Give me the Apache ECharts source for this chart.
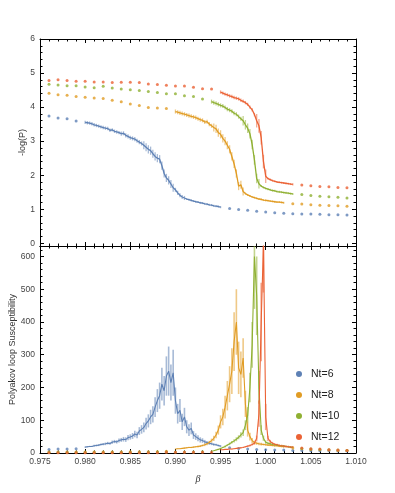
<!DOCTYPE html>
<html><head><meta charset="utf-8">
<script src="https://cdn.jsdelivr.net/npm/echarts@6/dist/echarts.min.js"></script>
<style>html,body{margin:0;padding:0;background:#fff}#c{width:395px;height:493px}</style>
</head><body><div id="c"></div>
<script>
// ---------- DATA ----------
const NAMES = ['Nt=6', 'Nt=8', 'Nt=10', 'Nt=12'];
const xTickLabels = [0.975, 0.980, 0.985, 0.990, 0.995, 1.000, 1.005, 1.010];
const yTicksTop = [0, 1, 2, 3, 4, 5, 6];
const yMinorTop = [0.2,0.4,0.6,0.8,1.2,1.4,1.6,1.8,2.2,2.4,2.6,2.8,3.2,3.4,3.6,3.8,4.2,4.4,4.6,4.8,5.2,5.4,5.6,5.8];
const yTicksBot = [0, 100, 200, 300, 400, 500, 600];
const yMinorBot = [20,40,60,80,120,140,160,180,220,240,260,280,320,340,360,380,420,440,460,480,520,540,560,580,620];

// Nt=6 dense
const bx6 = [0.98,0.98025,0.9805,0.98075,0.981,0.98125,0.9815,0.98175,0.982,0.98225,0.9825,0.98275,0.983,0.98325,0.9835,0.98375,0.984,0.98425,0.9845,0.98475,0.985,0.98525,0.9855,0.98575,0.986,0.98625,0.9865,0.98675,0.987,0.98725,0.9875,0.98775,0.988,0.98825,0.9885,0.98875,0.989,0.98925,0.9895,0.98975,0.99,0.99025,0.9905,0.99075,0.991,0.99125,0.9915,0.99175,0.992,0.99225,0.9925,0.99275,0.993,0.99325,0.9935,0.99375,0.994,0.99425,0.9945,0.99475,0.995];
const top6 = [3.55,3.54,3.53,3.51,3.48,3.46,3.44,3.42,3.40,3.38,3.37,3.32,3.33,3.29,3.27,3.25,3.22,3.23,3.17,3.14,3.10,3.08,3.06,3.01,2.97,2.93,2.88,2.82,2.76,2.72,2.63,2.55,2.50,2.47,2.28,2.05,1.92,1.85,1.74,1.63,1.57,1.48,1.41,1.36,1.33,1.30,1.28,1.26,1.24,1.22,1.21,1.19,1.18,1.16,1.15,1.13,1.12,1.10,1.09,1.08,1.06];
const topErr6 = [0.05,0.05,0.05,0.05,0.05,0.05,0.05,0.05,0.05,0.05,0.05,0.05,0.05,0.05,0.05,0.05,0.06,0.06,0.06,0.06,0.06,0.06,0.06,0.06,0.06,0.06,0.12,0.12,0.12,0.12,0.12,0.12,0.12,0.12,0.12,0.12,0.12,0.12,0.12,0.12,0.06,0.06,0.06,0.06,0.06,0.03,0.03,0.03,0.03,0.03,0.03,0.03,0.03,0.03,0.03,0.03,0.03,0.03,0.03,0.03,0.03];
const bot6 = [18,19,20,20,22,23,24,26,27,28,30,29,33,35,34,38,40,42,41,47,49,52,58,55,67,72,78,90,98,110,118,140,160,175,210,190,235,250,215,245,160,120,130,95,110,80,70,75,55,50,45,40,38,34,32,30,28,26,25,23,21];
const botErr6 = [2,2,2,2,3,3,3,3,3,4,4,4,5,5,5,6,6,7,7,8,8,9,10,10,12,13,15,18,20,22,25,30,35,40,50,45,60,75,55,70,40,30,35,25,28,20,18,18,12,10,9,8,7,6,5,5,4,4,3,3,3];

// Nt=8 dense
const bx8 = [0.99,0.99025,0.9905,0.99075,0.991,0.99125,0.9915,0.99175,0.992,0.99225,0.9925,0.99275,0.993,0.99325,0.9935,0.99375,0.994,0.99425,0.9945,0.99475,0.995,0.99525,0.9955,0.99575,0.996,0.99625,0.9965,0.99675,0.997,0.99725,0.9975,0.99775,0.998,0.99825,0.9985,0.99875,0.999,0.99925,0.9995,0.99975,1.0,1.00025,1.0005,1.00075,1.001,1.00125,1.0015,1.00175,1.002];
const top8 = [3.87,3.85,3.83,3.81,3.79,3.77,3.75,3.73,3.71,3.69,3.66,3.63,3.61,3.56,3.57,3.50,3.45,3.40,3.36,3.25,3.20,3.08,3.00,2.88,2.76,2.55,2.33,2.05,1.68,1.72,1.52,1.46,1.42,1.39,1.36,1.34,1.32,1.30,1.29,1.27,1.26,1.25,1.24,1.23,1.22,1.21,1.21,1.20,1.19];
const topErr8 = [0.06,0.06,0.06,0.06,0.06,0.06,0.06,0.06,0.06,0.06,0.06,0.06,0.06,0.06,0.06,0.06,0.06,0.12,0.12,0.12,0.12,0.12,0.12,0.12,0.12,0.12,0.12,0.12,0.12,0.12,0.12,0.03,0.03,0.03,0.03,0.03,0.03,0.03,0.03,0.03,0.03,0.03,0.03,0.03,0.03,0.03,0.03,0.03,0.03];
const bot8 = [12,13,13,14,15,16,17,17,18,19,20,21,23,25,28,32,38,45,55,70,95,110,140,175,210,250,340,400,260,240,290,150,70,50,38,32,30,28,27,26,25,24,24,23,22,22,21,20,19];
const botErr8 = [1,1,1,1,2,2,2,2,2,2,3,3,3,4,4,5,6,8,10,14,20,25,35,45,55,70,90,100,80,70,60,40,20,12,8,6,5,4,4,3,3,3,3,3,3,3,3,3,3];

// Nt=10 dense
const bx10 = [0.994,0.99425,0.9945,0.99475,0.995,0.99525,0.9955,0.99575,0.996,0.99625,0.9965,0.99675,0.997,0.99725,0.9975,0.99775,0.998,0.99825,0.9985,0.99875,0.999,0.99925,0.9995,0.99975,1.0,1.00025,1.0005,1.00075,1.001,1.00125,1.0015,1.00175,1.002,1.00225,1.0025,1.00275,1.003];
const top10 = [4.16,4.13,4.11,4.08,4.05,4.03,3.99,3.94,3.91,3.88,3.82,3.79,3.72,3.66,3.60,3.48,3.38,3.22,2.90,2.45,1.90,1.75,1.68,1.64,1.61,1.59,1.57,1.55,1.54,1.52,1.51,1.50,1.49,1.48,1.47,1.46,1.45];
const topErr10 = [0.06,0.06,0.06,0.06,0.06,0.06,0.06,0.06,0.06,0.06,0.06,0.06,0.06,0.06,0.14,0.14,0.14,0.14,0.14,0.14,0.14,0.14,0.03,0.03,0.03,0.03,0.03,0.03,0.03,0.03,0.03,0.03,0.03,0.03,0.03,0.03,0.03];
const bot10 = [6,7,9,11,14,17,20,24,28,33,37,42,48,55,62,85,115,200,330,600,480,200,70,45,33,30,28,26,25,24,23,22,21,20,19,18,17];
const botErr10 = [1,1,1,2,2,2,3,3,4,4,5,6,6,8,10,15,25,45,70,160,120,50,15,8,5,4,4,3,3,3,3,3,3,3,3,3,3];

// Nt=12 dense
const bx12 = [0.995,0.99525,0.9955,0.99575,0.996,0.99625,0.9965,0.99675,0.997,0.99725,0.9975,0.99775,0.998,0.99825,0.9985,0.99875,0.999,0.99925,0.9995,0.99975,1.0,1.00025,1.0005,1.00075,1.001,1.00125,1.0015,1.00175,1.002,1.00225,1.0025,1.00275,1.003];
const top12 = [4.44,4.41,4.38,4.36,4.33,4.31,4.28,4.26,4.24,4.20,4.17,4.13,4.08,4.00,3.92,3.78,3.60,3.45,3.10,2.40,1.97,1.90,1.87,1.84,1.82,1.80,1.79,1.78,1.77,1.76,1.75,1.74,1.73];
const topErr12 = [0.05,0.05,0.05,0.05,0.05,0.05,0.05,0.05,0.05,0.05,0.05,0.05,0.05,0.05,0.05,0.05,0.2,0.2,0.2,0.2,0.2,0.03,0.03,0.03,0.03,0.03,0.03,0.03,0.03,0.03,0.03,0.03,0.03];
const bot12 = [10,10,11,11,12,12,13,14,15,16,17,19,21,23,26,30,45,120,400,640,110,45,35,30,27,25,23,22,21,20,19,18,18];
const botErr12 = [1,1,1,1,1,1,1,1,2,2,2,2,2,3,3,4,8,40,120,150,40,8,5,4,3,3,3,3,3,3,3,3,3];

// sparse points
const sx6 = [0.976,0.977,0.978,0.979,0.996,0.997,0.998,0.999,1.000,1.001,1.002,1.003,1.004,1.005,1.006,1.007,1.008,1.009];
const sTop6 = [3.74,3.68,3.66,3.59,1.02,0.99,0.97,0.94,0.92,0.90,0.88,0.87,0.86,0.86,0.85,0.84,0.84,0.83];
const sBot6 = [11,12,12,13,16,14,12,11,10,9,9,8,8,7,7,7,6,6];
const sx8 = [0.976,0.977,0.978,0.979,0.980,0.981,0.982,0.983,0.984,0.985,0.986,0.987,0.988,0.989,1.003,1.004,1.005,1.006,1.007,1.008,1.009];
const sTop8 = [4.41,4.36,4.35,4.31,4.29,4.27,4.25,4.20,4.16,4.09,4.05,3.99,3.97,3.96,1.16,1.15,1.13,1.12,1.11,1.10,1.09];
const sBot8 = [3,3,3,3,3,3,3,3,3,4,4,4,4,5,15,13,11,10,9,8,8];
const sx10 = [0.976,0.977,0.978,0.979,0.980,0.981,0.982,0.983,0.984,0.985,0.986,0.987,0.988,0.989,0.990,0.991,0.992,0.993,1.004,1.005,1.006,1.007,1.008,1.009];
const sTop10 = [4.67,4.65,4.63,4.63,4.59,4.57,4.61,4.56,4.53,4.51,4.49,4.46,4.43,4.39,4.39,4.33,4.31,4.24,1.43,1.40,1.38,1.37,1.35,1.33];
const sBot10 = [2,2,2,2,2,2,2,2,2,2,2,2,3,3,3,3,3,4,14,12,11,10,9,8];
const sx12 = [0.976,0.977,0.978,0.979,0.980,0.981,0.982,0.983,0.984,0.985,0.986,0.987,0.988,0.989,0.990,0.991,0.992,0.993,0.994,1.004,1.005,1.006,1.007,1.008,1.009];
const sTop12 = [4.78,4.80,4.78,4.76,4.76,4.74,4.74,4.72,4.73,4.73,4.72,4.68,4.66,4.64,4.62,4.62,4.58,4.54,4.53,1.71,1.69,1.67,1.66,1.64,1.63];
const sBot12 = [1,1,1,1,1,1,1,1,1,1,1,1,1,2,2,2,2,2,2,15,13,12,10,9,8];

// ---------- CHART ----------
const COLORS = ['#5E81B5', '#E19C24', '#8FB032', '#EB6235'];
const FONT = 'Liberation Sans';
const AX = '#000';

const groups = [
  {dx: bx6, top: top6, topErr: topErr6, bot: bot6, botErr: botErr6, sx: sx6, sTop: sTop6, sBot: sBot6},
  {dx: bx8, top: top8, topErr: topErr8, bot: bot8, botErr: botErr8, sx: sx8, sTop: sTop8, sBot: sBot8},
  {dx: bx10, top: top10, topErr: topErr10, bot: bot10, botErr: botErr10, sx: sx10, sTop: sTop10, sBot: sBot10},
  {dx: bx12, top: top12, topErr: topErr12, bot: bot12, botErr: botErr12, sx: sx12, sTop: sTop12, sBot: sBot12}
];

function xAx(gi, pos, labels, name) {
  const a = {
    type: 'value', gridIndex: gi, position: pos, min: 0.975, max: 1.010, interval: 0.005,
    axisLine: {show: true, onZero: false, lineStyle: {color: AX, width: 1}},
    axisTick: {show: true, inside: true, length: 4, lineStyle: {color: AX}},
    minorTick: {show: true, splitNumber: 5, length: 2.5, lineStyle: {color: AX}},
    splitLine: {show: false}, minorSplitLine: {show: false},
    axisLabel: {show: labels, formatter: v => v.toFixed(3), fontSize: 8.5, color: '#444', margin: 4, fontFamily: FONT}
  };
  if (name) {
    a.name = name; a.nameLocation = 'middle'; a.nameGap = 21;
    a.nameTextStyle = {fontSize: 10, fontStyle: 'italic', color: '#333', fontFamily: 'Liberation Serif'};
  }
  return a;
}
function yAx(gi, pos, min, max, ticks, labels, name, gap, minor) {
  const a = {
    type: 'value', gridIndex: gi, position: pos, min: min, max: max,
    axisLine: {show: !minor, onZero: false, lineStyle: {color: AX, width: 1}},
    axisTick: {show: true, inside: true, length: minor ? 2.5 : 4, customValues: ticks, lineStyle: {color: AX}},
    splitLine: {show: false},
    axisLabel: {show: labels, customValues: ticks, fontSize: 8.5, color: '#444', margin: 5, fontFamily: FONT}
  };
  if (name) {
    a.name = name; a.nameLocation = 'middle'; a.nameGap = gap; a.nameMoveOverlap = false;
    a.nameTextStyle = {fontSize: 9, color: '#333', fontFamily: FONT};
  }
  return a;
}

function errRender(width) {
  return function (params, api) {
    const x = api.value(0), y = api.value(1), e = api.value(2);
    const cs = params.coordSys;
    const p1 = api.coord([x, y - e]);
    const p2 = api.coord([x, y + e]);
    const y1 = Math.min(Math.max(p1[1], cs.y), cs.y + cs.height);
    const y2 = Math.min(Math.max(p2[1], cs.y), cs.y + cs.height);
    return {
      type: 'line',
      shape: {x1: p1[0], y1: y1, x2: p2[0], y2: y2},
      style: {stroke: api.visual('color'), lineWidth: width, opacity: 0.55}
    };
  };
}

const series = [];
groups.forEach((g, i) => {
  const c = COLORS[i], n = NAMES[i];
  const panels = [
    {xi: 0, yi: 0, vals: g.top, errs: g.topErr, svals: g.sTop, w: 1.3, lw: 1.3},
    {xi: 2, yi: 4, vals: g.bot, errs: g.botErr, svals: g.sBot, w: 1.6, lw: 1.1}
  ];
  panels.forEach(p => {
    series.push({
      type: 'custom', name: n, xAxisIndex: p.xi, yAxisIndex: p.yi, clip: true,
      itemStyle: {color: c}, encode: {x: 0, y: 1},
      renderItem: errRender(p.w),
      data: g.dx.map((x, k) => [x, p.vals[k], p.errs[k]]), silent: true
    });
    series.push({
      type: 'line', name: n, xAxisIndex: p.xi, yAxisIndex: p.yi, showSymbol: false, clip: true,
      lineStyle: {color: c, width: p.lw}, itemStyle: {color: c},
      data: g.dx.map((x, k) => [x, p.vals[k]]), silent: true
    });
    series.push({
      type: 'scatter', name: n, xAxisIndex: p.xi, yAxisIndex: p.yi, symbolSize: 3,
      itemStyle: {color: c}, data: g.sx.map((x, k) => [x, p.svals[k]]), silent: true
    });
  });
});

const chart = echarts.init(document.getElementById('c'), null, {renderer: 'canvas'});
chart.setOption({
  animation: false,
  backgroundColor: '#fff',
  grid: [
    {left: 40, top: 39, width: 316, height: 207},
    {left: 40, top: 246, width: 316, height: 207}
  ],
  xAxis: [
    xAx(0, 'bottom', false),
    xAx(0, 'top', false),
    xAx(1, 'bottom', true, 'β'),
    xAx(1, 'top', false)
  ],
  yAxis: [
    yAx(0, 'left', -0.08, 6, yTicksTop, true, '-log(P)', 13, false),
    yAx(0, 'right', -0.08, 6, yTicksTop, false, null, 0, false),
    yAx(0, 'left', -0.08, 6, yMinorTop, false, null, 0, true),
    yAx(0, 'right', -0.08, 6, yMinorTop, false, null, 0, true),
    yAx(1, 'left', 0, 632, yTicksBot, true, 'Polyakov loop Susceptibility', 23, false),
    yAx(1, 'right', 0, 632, yTicksBot, false, null, 0, false),
    yAx(1, 'left', 0, 632, yMinorBot, false, null, 0, true),
    yAx(1, 'right', 0, 632, yMinorBot, false, null, 0, true)
  ],
  legend: {
    data: NAMES.map(n => ({name: n, icon: 'circle'})),
    orient: 'vertical', left: 296, top: 368, padding: 0,
    itemWidth: 14, itemHeight: 6, itemGap: 9,
    textStyle: {fontSize: 10.5, color: '#222', fontFamily: FONT, lineHeight: 12}
  },
  series: series
});
</script>
</body></html>
